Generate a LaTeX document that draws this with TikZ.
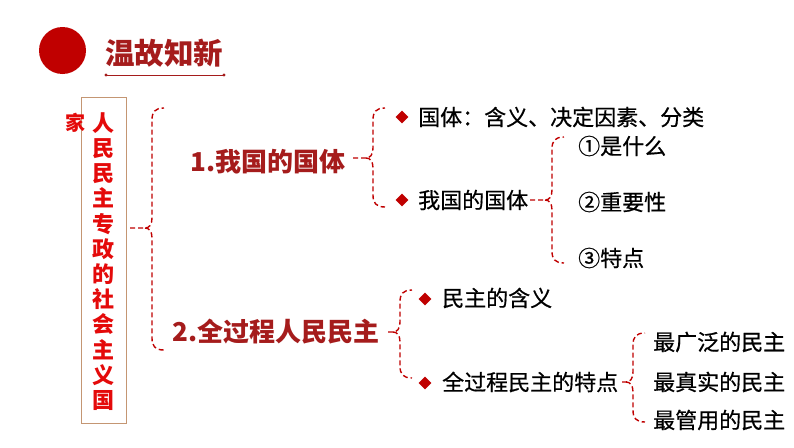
\documentclass[tikz,border=0pt]{standalone}
\usepackage{fontspec}
\newfontfamily\cjk{Noto Sans CJK SC}
\newfontfamily\cjkm[FakeBold=0.6]{Noto Sans CJK SC}
\usetikzlibrary{shapes.geometric}
\definecolor{mred}{RGB}{192,0,0}
\definecolor{dred}{RGB}{165,28,28}
\definecolor{vred}{RGB}{228,10,10}
\definecolor{boxc}{RGB}{196,150,115}
\newcommand\mybrc[5]{%
\draw[brc] (#5,#3) -- (#1-7,#3) .. controls (#1-3,#3) and (#1,#3-3) .. (#1,#3-10) -- (#1,#2+12) .. controls (#1,#2+4) and (#1+3,#2) .. (#1+12,#2);
\draw[brc] (#1-7,#3) .. controls (#1-3,#3) and (#1,#3+3) .. (#1,#3+10) -- (#1,#4-12) .. controls (#1,#4-4) and (#1+3,#4) .. (#1+12,#4);}
\begin{document}
\begin{tikzpicture}[x=1pt,y=-1pt,
  brc/.style={mred,line width=1.4pt,dash pattern=on 5pt off 3pt},
  head/.style={anchor=west,inner sep=0,text=dred,font=\cjk\bfseries\fontsize{26}{26}\selectfont},
  item/.style={anchor=west,inner sep=0,text=black,font=\cjkm\fontsize{22}{22}\selectfont},
  dia/.style={diamond,fill=mred,inner sep=0,minimum size=13pt}]
\useasboundingbox (0,0) rectangle (794,447);
\fill[white] (0,0) rectangle (794,447);
% title
\node[circle,fill=mred,minimum size=47pt,inner sep=0] (dot) at (62.5,50.5) {};
\node[anchor=west,inner sep=0,text=dred,font=\cjk\bfseries\fontsize{29.5}{29.5}\selectfont] (title) at (105,53) {温故知新};
\coordinate (ul) at (106,75);
\coordinate (ur) at (224,75);
\draw[dred,line width=1pt] (ul) -- (ur);
\fill[dred] (ul) circle (1.6) (ur) circle (1.6);
% vertical box
\draw[boxc,line width=1pt] (81,97) rectangle (126,423);
\node[inner sep=0,text=vred,align=center,font=\cjk\bfseries\fontsize{22}{25.2}\selectfont] (vt) at (103.5,261.5) {人\\民\\民\\主\\专\\政\\的\\社\\会\\主\\义\\国};
\node[inner sep=0,text=vred,font=\cjk\bfseries\fontsize{20}{20}\selectfont] (jia) at (75,123) {家};
% headings
\node[head] (t1) at (190,162) {1.我国的国体};
\node[head] (t2) at (172,332) {2.全过程人民民主};
% items
\node[dia] (dm1) at (402,117) {};
\node[dia] (dm2) at (402,200) {};
\node[dia] (dm3) at (425,299) {};
\node[dia] (dm4) at (425,383) {};
\node[item] (a1) at (418,117) {国体：含义、决定因素、分类};
\node[item] (a2) at (418,200) {我国的国体};
\node[item] (b1) at (578,146) {①是什么};
\node[item] (b2) at (578,202) {②重要性};
\node[item] (b3) at (578,258) {③特点};
\node[item] (c1) at (442,298) {民主的含义};
\node[item] (c2) at (442,382) {全过程民主的特点};
\node[item] (d1) at (653,342) {最广泛的民主};
\node[item] (d2) at (653,382) {最真实的民主};
\node[item] (d3) at (653,420) {最管用的民主};
% braces
\mybrc{152}{108}{228}{350}{130}
\mybrc{373}{108}{158}{207}{353}
\mybrc{552}{137}{200}{263}{530}
\mybrc{400}{290}{332}{378}{388}
\mybrc{633}{333}{382}{422}{622}
\end{tikzpicture}
\end{document}
